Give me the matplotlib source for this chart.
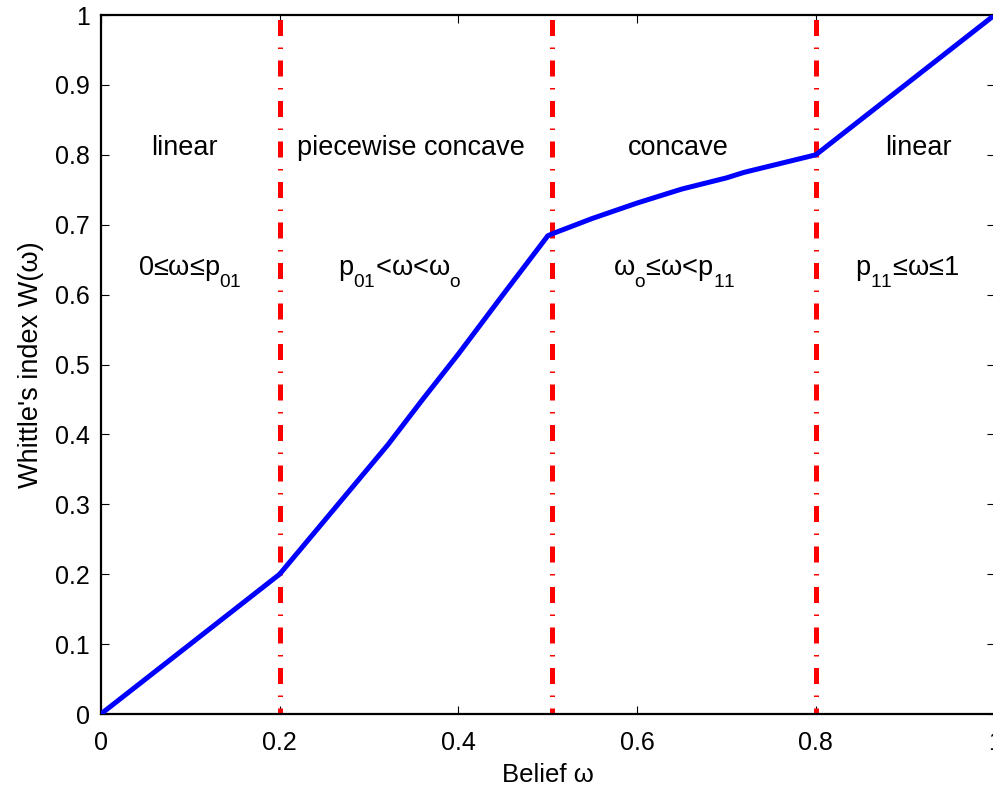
import matplotlib
matplotlib.use("Agg")
import matplotlib.pyplot as plt

try:
    import matplotlib._mathtext as _mt
    _mt.FontConstantsBase.sub1 = 0.85
    _mt.FontConstantsBase.sub2 = 0.85
except Exception:
    pass

# ---- data ----
belief = [0.0, 0.2, 0.321, 0.36, 0.40, 0.45, 0.50, 0.505, 0.55, 0.60, 0.65, 0.70, 0.72, 0.80, 1.0]
whittle = [0.0, 0.2, 0.385, 0.45, 0.515, 0.60, 0.684, 0.687, 0.709, 0.731, 0.751, 0.767, 0.775, 0.80, 1.0]
boundaries = [0.2, 0.505, 0.8]
region_names = ["linear", "piecewise concave", "concave", "linear"]
region_conds = ["0≤ω≤p$_{01}$", "p$_{01}$<ω<ω$_o$", "ω$_o$≤ω<p$_{11}$", "p$_{11}$≤ω≤1"]
xticks = [0, 0.2, 0.4, 0.6, 0.8, 1]
xticklabels = ["0", "0.2", "0.4", "0.6", "0.8", "1"]
yticks = [0, 0.1, 0.2, 0.3, 0.4, 0.5, 0.6, 0.7, 0.8, 0.9, 1]
yticklabels = ["0", "0.1", "0.2", "0.3", "0.4", "0.5", "0.6", "0.7", "0.8", "0.9", "1"]

# ---- layout ----
name_x = [0.094, 0.347, 0.646, 0.915]
cond_x = [0.100, 0.334, 0.641, 0.9025]
name_y = 0.800
cond_y = 0.628

plt.rcParams['font.family'] = ['Liberation Sans', 'DejaVu Sans']
plt.rcParams['mathtext.fontset'] = 'custom'
plt.rcParams['mathtext.rm'] = 'Liberation Sans'
plt.rcParams['mathtext.it'] = 'Liberation Sans'
plt.rcParams['mathtext.default'] = 'regular'

fig = plt.figure(figsize=(9.93, 7.86), dpi=100)
ax = fig.add_axes([0.1016, 0.0916, 0.9, 0.8893])

for b in boundaries:
    ax.axvline(b, 0, 1, color=(1, 0, 0), lw=3.6,
               linestyle=(2.0, (3.2, 2.3, 0.3, 2.3)), zorder=2)

ax.plot(belief, whittle, color=(0, 0, 1), lw=3.6, zorder=3,
        solid_joinstyle='miter')

for x, t in zip(name_x, region_names):
    ax.text(x, name_y, t, ha='center', va='baseline', fontsize=19.5)
for x, t in zip(cond_x, region_conds):
    ax.text(x, cond_y, t, ha='center', va='baseline', fontsize=19.5)

ax.set_xlim(0, 1)
ax.set_ylim(0, 1)
ax.set_xticks(xticks)
ax.set_xticklabels(xticklabels)
ax.set_yticks(yticks)
ax.set_yticklabels(yticklabels)
ax.tick_params(direction='in', length=6, width=0.8, labelsize=18,
               top=True, right=True)
ax.tick_params(axis='x', pad=12)
ax.tick_params(axis='y', pad=8)
for s in ax.spines.values():
    s.set_linewidth(1.6)
ax.set_xlabel("Belief ω", fontsize=18.5, labelpad=6)
ax.set_ylabel("Whittle's index W(ω)", fontsize=19.5, labelpad=8)

fig.savefig("out.png", dpi=100)
